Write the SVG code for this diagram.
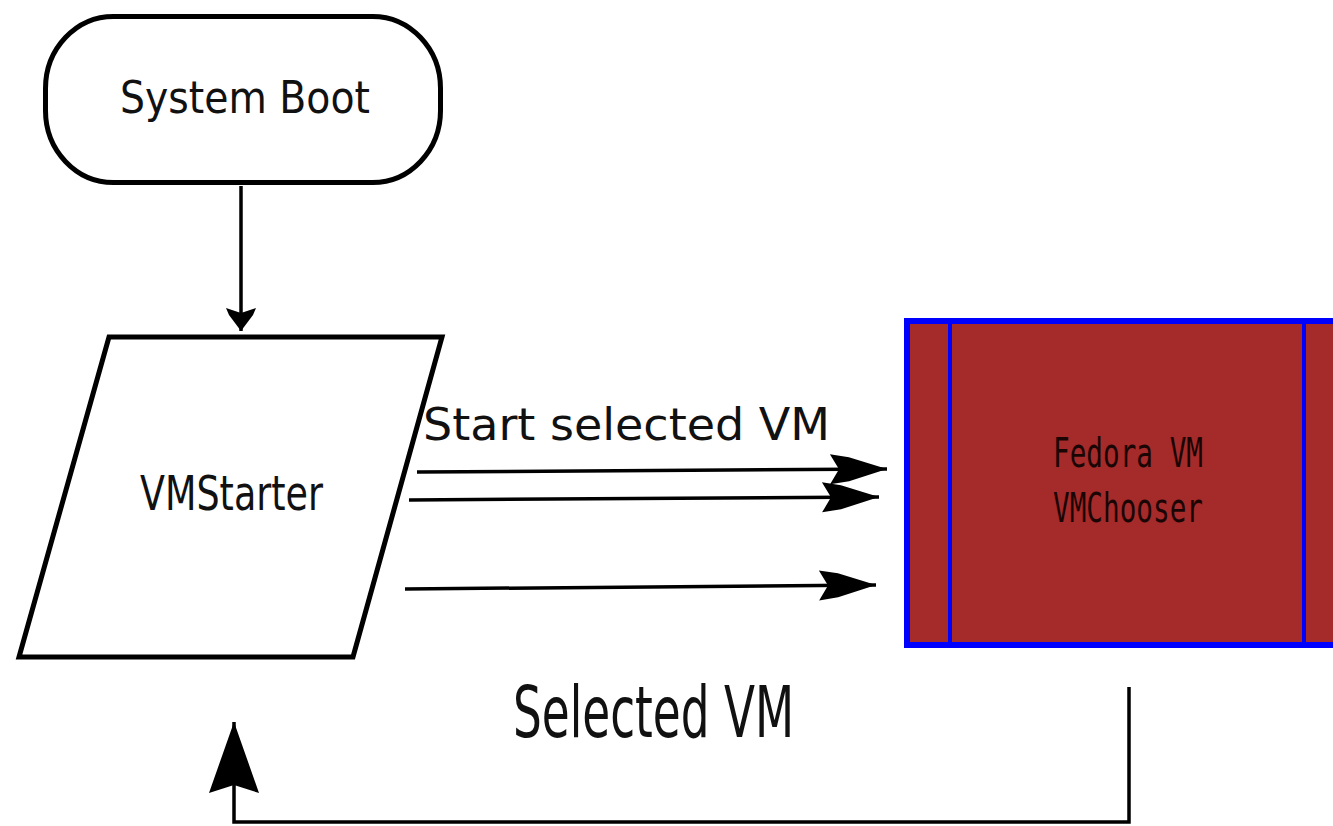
<svg xmlns="http://www.w3.org/2000/svg" width="1333" height="826" viewBox="0 0 1333 826">
  <style>
    .shape { fill: #ffffff; stroke: #000000; stroke-width: 5; }
    .lbl { font-family: "DejaVu Sans", "Liberation Sans", sans-serif; fill: #111111; }
    .mono { font-family: "DejaVu Sans Mono", "Liberation Mono", monospace; fill: #1a0505; }
    .conn { fill: none; stroke: #000000; stroke-width: 3.5; }
  </style>
  <defs>
    <marker id="arrH" markerUnits="userSpaceOnUse" viewBox="-60 -16 62 32" refX="0" refY="0" markerWidth="62" markerHeight="32" orient="auto">
      <path d="M0,0 L-38,-12 L-57,-15 L-48,0 L-57,15 L-38,12 Z" fill="#000"/>
    </marker>
    <marker id="arrS" markerUnits="userSpaceOnUse" viewBox="-26 -17 28 34" refX="0" refY="0" markerWidth="28" markerHeight="34" orient="auto">
      <path d="M0,0 L-16,-12 L-23,-15 L-18,0 L-23,15 L-16,12 Z" fill="#000"/>
    </marker>
    <marker id="arrL" markerUnits="userSpaceOnUse" viewBox="-74 -27 76 54" refX="0" refY="0" markerWidth="76" markerHeight="54" orient="auto">
      <path d="M0,0 L-71,-25 L-63,0 L-71,25 Z" fill="#000"/>
    </marker>
  </defs>
  <rect width="1333" height="826" fill="#ffffff"/>

  <g id="connectors">
    <line class="conn" x1="241" y1="186" x2="241" y2="331" marker-end="url(#arrS)"/>
    <line class="conn" x1="417" y1="472" x2="887" y2="469" marker-end="url(#arrH)"/>
    <line class="conn" x1="409" y1="500" x2="879" y2="497" marker-end="url(#arrH)"/>
    <line class="conn" x1="405" y1="589" x2="876" y2="585" marker-end="url(#arrH)"/>
    <path class="conn" d="M1129,687 V822 H234 V722" stroke-width="4" marker-end="url(#arrL)"/>
  </g>

  <g id="system-boot">
    <rect class="shape" x="45.5" y="16.5" width="395" height="166" rx="68" ry="72"/>
    <text class="lbl" x="120" y="113" font-size="45" textLength="250" lengthAdjust="spacingAndGlyphs">System Boot</text>
  </g>

  <g id="vmstarter">
    <polygon class="shape" points="109,337 442,337 353,657 19,657" stroke-width="6"/>
    <text class="lbl" x="140" y="510" font-size="48" textLength="183" lengthAdjust="spacingAndGlyphs">VMStarter</text>
  </g>

  <g id="fedora-vm">
    <rect x="907" y="321" width="460" height="324" fill="#a52a2a" stroke="#0000ff" stroke-width="6"/>
    <line x1="950" y1="321" x2="950" y2="645" stroke="#0000ff" stroke-width="4"/>
    <line x1="1304" y1="321" x2="1304" y2="645" stroke="#0000ff" stroke-width="4"/>
    <text class="mono" x="1053" y="467" font-size="41" textLength="150" lengthAdjust="spacingAndGlyphs">Fedora VM</text>
    <text class="mono" x="1053" y="522" font-size="41" textLength="150" lengthAdjust="spacingAndGlyphs">VMChooser</text>
  </g>

  <g id="labels">
    <text class="lbl" x="423" y="440" font-size="44" textLength="407" lengthAdjust="spacingAndGlyphs">Start selected VM</text>
    <text class="lbl" x="513" y="737" font-size="71" textLength="281" lengthAdjust="spacingAndGlyphs">Selected VM</text>
  </g>
</svg>
